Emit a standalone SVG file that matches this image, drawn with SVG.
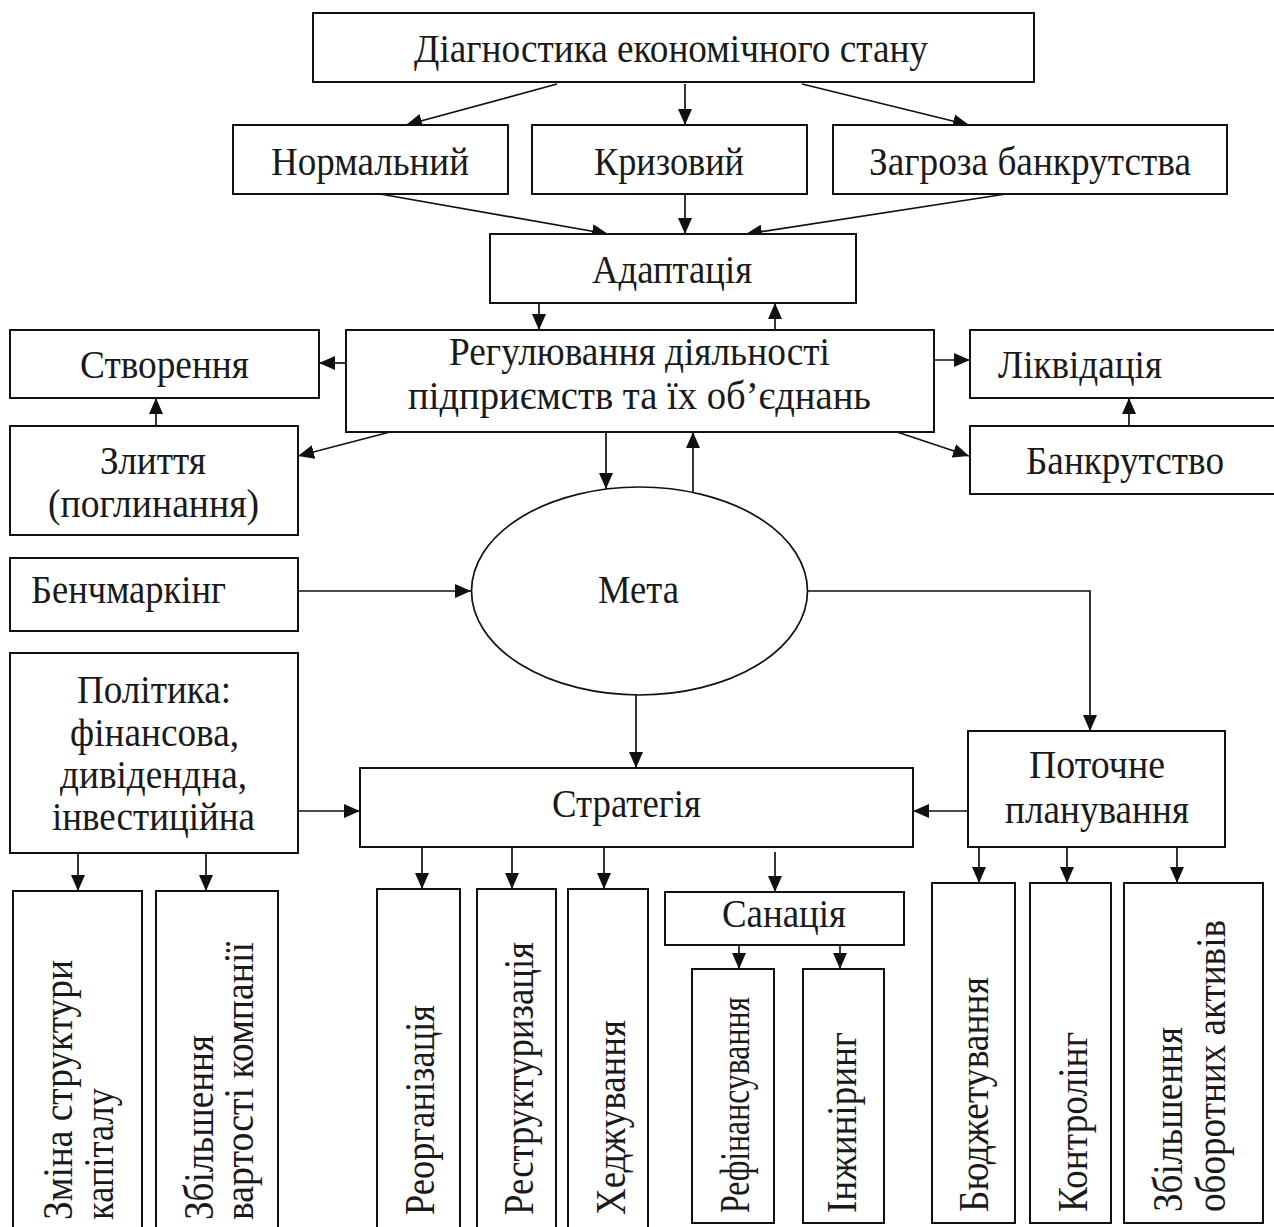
<svg xmlns="http://www.w3.org/2000/svg" width="1274" height="1227" viewBox="0 0 1274 1227">
<defs>
<marker id="ah" markerUnits="userSpaceOnUse" markerWidth="16" markerHeight="14" refX="16" refY="7" orient="auto">
<path d="M0,0 L16,7 L0,14 z" fill="#111"/>
</marker>
<style>
.box{fill:#fff;stroke:#111;stroke-width:2}
.t{font-family:"Liberation Serif","Times New Roman",serif;font-size:41px;fill:#1a1a1a}
.v{font-family:"Liberation Serif","Times New Roman",serif;font-size:43px;fill:#1a1a1a}
.c{fill:none;stroke:#111;stroke-width:1.7;marker-end:url(#ah)}
</style>
</defs>
<rect x="0" y="0" width="1274" height="1227" fill="#fff"/>
<g id="connectors">
<path class="c" d="M557,84 L406,125"/>
<path class="c" d="M685,84 L685,125"/>
<path class="c" d="M802,84 L969,125"/>
<path class="c" d="M380,194 L608,234"/>
<path class="c" d="M685,194 L685,234"/>
<path class="c" d="M1006,194 L746,234"/>
<path class="c" d="M539,304 L539,330"/>
<path class="c" d="M775,330 L775,303"/>
<path class="c" d="M346,363 L319,363"/>
<path class="c" d="M156,426 L156,398"/>
<path class="c" d="M390,432 L298,456"/>
<path class="c" d="M934,360 L970,360"/>
<path class="c" d="M1129,426 L1129,398"/>
<path class="c" d="M897,432 L969,456"/>
<path class="c" d="M606,432 L606,489"/>
<path class="c" d="M693,492 L693,432"/>
<path class="c" d="M298,591 L471,591"/>
<path class="c" d="M808,591 L1090,591 L1090,731"/>
<path class="c" d="M636,695 L636,768"/>
<path class="c" d="M298,811 L360,811"/>
<path class="c" d="M968,811 L913,811"/>
<path class="c" d="M78,853 L78,891"/>
<path class="c" d="M206,853 L206,891"/>
<path class="c" d="M422,848 L422,889"/>
<path class="c" d="M512,848 L512,889"/>
<path class="c" d="M604,848 L604,889"/>
<path class="c" d="M775,852 L775,892"/>
<path class="c" d="M739,945 L739,969"/>
<path class="c" d="M840,945 L840,969"/>
<path class="c" d="M979,847 L979,883"/>
<path class="c" d="M1067,847 L1067,883"/>
<path class="c" d="M1177,847 L1177,883"/>
</g>
<g id="diag"><rect class="box" x="313" y="13" width="721" height="69"/><text class="t" x="414" y="62" textLength="514" lengthAdjust="spacingAndGlyphs">Діагностика економічного стану</text></g>
<g id="normal"><rect class="box" x="233" y="125" width="275" height="69"/><text class="t" x="271" y="175" textLength="198" lengthAdjust="spacingAndGlyphs">Нормальний</text></g>
<g id="crisis"><rect class="box" x="532" y="125" width="275" height="69"/><text class="t" x="594" y="175" textLength="150" lengthAdjust="spacingAndGlyphs">Кризовий</text></g>
<g id="threat"><rect class="box" x="833" y="125" width="394" height="69"/><text class="t" x="869" y="175" textLength="322" lengthAdjust="spacingAndGlyphs">Загроза банкрутства</text></g>
<g id="adapt"><rect class="box" x="490" y="234" width="366" height="69"/><text class="t" x="592" y="283" textLength="160" lengthAdjust="spacingAndGlyphs">Адаптація</text></g>
<g id="regul"><rect class="box" x="346" y="330" width="588" height="102"/><text class="t" x="449" y="365" textLength="381" lengthAdjust="spacingAndGlyphs">Регулювання діяльності</text><text class="t" x="408" y="409" textLength="463" lengthAdjust="spacingAndGlyphs">підприємств та їх об’єднань</text></g>
<g id="create"><rect class="box" x="10" y="330" width="309" height="68"/><text class="t" x="80" y="378" textLength="169" lengthAdjust="spacingAndGlyphs">Створення</text></g>
<g id="merge"><rect class="box" x="10" y="426" width="288" height="109"/><text class="t" x="100" y="474" textLength="106" lengthAdjust="spacingAndGlyphs">Злиття</text><text class="t" x="48" y="517" textLength="211" lengthAdjust="spacingAndGlyphs">(поглинання)</text></g>
<g id="liquid"><rect class="box" x="970" y="330" width="320" height="68"/><text class="t" x="998" y="378" textLength="164" lengthAdjust="spacingAndGlyphs">Ліквідація</text></g>
<g id="bankr"><rect class="box" x="970" y="426" width="320" height="68"/><text class="t" x="1026" y="474" textLength="198" lengthAdjust="spacingAndGlyphs">Банкрутство</text></g>
<g id="goal"><ellipse cx="639.5" cy="591" rx="168" ry="104" fill="#fff" stroke="#111" stroke-width="1.7"/><text class="t" x="598" y="603" textLength="81" lengthAdjust="spacingAndGlyphs">Мета</text></g>
<g id="bench"><rect class="box" x="10" y="558" width="288" height="73"/><text class="t" x="31" y="603" textLength="195" lengthAdjust="spacingAndGlyphs">Бенчмаркінг</text></g>
<g id="policy"><rect class="box" x="10" y="653" width="288" height="200"/><text class="t" x="77" y="703" textLength="154" lengthAdjust="spacingAndGlyphs">Політика:</text><text class="t" x="70" y="746" textLength="169" lengthAdjust="spacingAndGlyphs">фінансова,</text><text class="t" x="60" y="788" textLength="187" lengthAdjust="spacingAndGlyphs">дивідендна,</text><text class="t" x="52" y="830" textLength="203" lengthAdjust="spacingAndGlyphs">інвестиційна</text></g>
<g id="strategy"><rect class="box" x="360" y="768" width="553" height="79"/><text class="t" x="552" y="817" textLength="149" lengthAdjust="spacingAndGlyphs">Стратегія</text></g>
<g id="current"><rect class="box" x="968" y="731" width="257" height="116"/><text class="t" x="1029" y="778" textLength="136" lengthAdjust="spacingAndGlyphs">Поточне</text><text class="t" x="1005" y="823" textLength="184" lengthAdjust="spacingAndGlyphs">планування</text></g>
<g id="capital"><rect class="box" x="13" y="891" width="129" height="360"/><text class="v" transform="translate(72,1220) rotate(-90)" textLength="260" lengthAdjust="spacingAndGlyphs">Зміна структури</text><text class="v" transform="translate(113,1220) rotate(-90)" textLength="132" lengthAdjust="spacingAndGlyphs">капіталу</text></g>
<g id="value"><rect class="box" x="156" y="891" width="122" height="360"/><text class="v" transform="translate(213,1220) rotate(-90)" textLength="185" lengthAdjust="spacingAndGlyphs">Збільшення</text><text class="v" transform="translate(253,1220) rotate(-90)" textLength="278" lengthAdjust="spacingAndGlyphs">вартості компанії</text></g>
<g id="reorg"><rect class="box" x="377" y="889" width="83" height="360"/><text class="v" transform="translate(434,1215) rotate(-90)" textLength="210" lengthAdjust="spacingAndGlyphs">Реорганізація</text></g>
<g id="restr"><rect class="box" x="477" y="889" width="79" height="360"/><text class="v" transform="translate(533,1215) rotate(-90)" textLength="273" lengthAdjust="spacingAndGlyphs">Реструктуризація</text></g>
<g id="hedge"><rect class="box" x="568" y="889" width="80" height="360"/><text class="v" transform="translate(625,1215) rotate(-90)" textLength="195" lengthAdjust="spacingAndGlyphs">Хеджування</text></g>
<g id="sanation"><rect class="box" x="665" y="892" width="239" height="53"/><text class="t" x="722" y="927" textLength="124" lengthAdjust="spacingAndGlyphs">Санація</text></g>
<g id="refin"><rect class="box" x="692" y="969" width="82" height="254"/><text class="v" transform="translate(749,1213) rotate(-90)" textLength="216" lengthAdjust="spacingAndGlyphs">Рефінансування</text></g>
<g id="engin"><rect class="box" x="803" y="969" width="81" height="254"/><text class="v" transform="translate(856,1213) rotate(-90)" textLength="181" lengthAdjust="spacingAndGlyphs">Інжиніринг</text></g>
<g id="budget"><rect class="box" x="932" y="883" width="83" height="340"/><text class="v" transform="translate(988,1212) rotate(-90)" textLength="235" lengthAdjust="spacingAndGlyphs">Бюджетування</text></g>
<g id="control"><rect class="box" x="1030" y="883" width="81" height="340"/><text class="v" transform="translate(1087,1212) rotate(-90)" textLength="180" lengthAdjust="spacingAndGlyphs">Контролінг</text></g>
<g id="assets"><rect class="box" x="1124" y="883" width="139" height="340"/><text class="v" transform="translate(1182,1212) rotate(-90)" textLength="185" lengthAdjust="spacingAndGlyphs">Збільшення</text><text class="v" transform="translate(1225,1212) rotate(-90)" textLength="292" lengthAdjust="spacingAndGlyphs">оборотних активів</text></g>
</svg>
